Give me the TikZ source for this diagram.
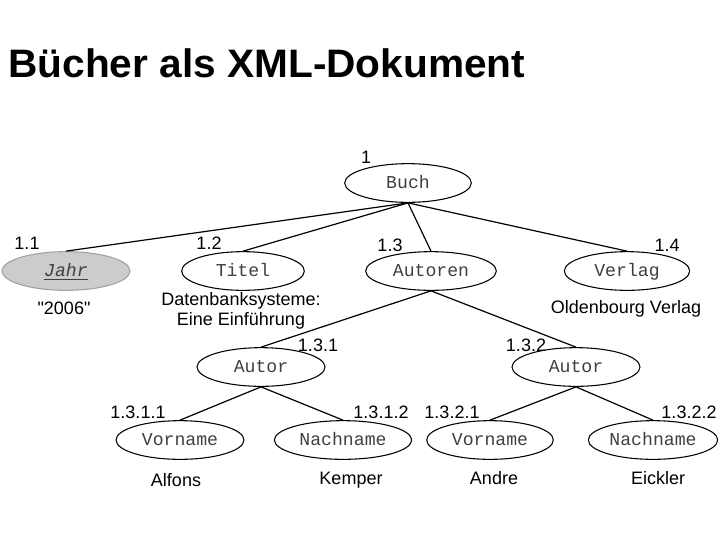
\documentclass[tikz,border=0pt]{standalone}
\usepackage{fontspec}
\setmainfont{Liberation Sans}
\newfontfamily\plainfnt{Liberation Sans}
\newfontfamily\monofnt{Liberation Mono}
\usetikzlibrary{shapes.geometric}
\definecolor{nodetext}{HTML}{404040}
\definecolor{jahrfill}{HTML}{CCCCCC}
\definecolor{jahrdraw}{HTML}{A0A0A0}
\tikzset{
  elem/.style={ellipse, draw=black, line width=0.8pt, inner sep=0pt,
    minimum width=96pt, minimum height=29pt, text height=8.6pt, text depth=0pt,
    font=\monofnt\fontsize{13.6pt}{15pt}\selectfont, text=nodetext},
  lbl/.style={font=\fontsize{13.5pt}{16pt}\selectfont, inner sep=0pt, anchor=base, text=black},
  val/.style={font=\fontsize{13.5pt}{15pt}\selectfont, inner sep=0pt, anchor=base, align=center, text=black},
  edge/.style={line width=0.9pt, black}
}
\begin{document}
\begin{tikzpicture}[x=0.75pt,y=-0.75pt]
\useasboundingbox[fill=white] (0,0) rectangle (720,540);
\node[anchor=base west, inner sep=0pt, font=\bfseries\fontsize{29.8pt}{32pt}\selectfont] (title) at (8,77) {\resizebox{387.75pt}{\height}{Bücher als XML-Dokument}};

\node[elem, minimum width=95pt] (buch) at (408,183) {Buch};
\node[elem, fill=jahrfill, draw=jahrdraw, minimum width=96pt] (jahr) at (66,271) {\itshape\underline{Jahr}};
\node[elem, minimum width=92pt] (titel) at (243,271) {Titel};
\node[elem, minimum width=98pt] (autoren) at (431,271) {Autoren};
\node[elem, minimum width=94pt] (verlag) at (627,271) {Verlag};
\node[elem, minimum width=96pt] (autor1) at (261,367) {Autor};
\node[elem, minimum width=96pt] (autor2) at (576,367) {Autor};
\node[elem, minimum width=96pt] (vor1) at (180,440) {Vorname};
\node[elem, minimum width=103pt] (nach1) at (343,440) {Nachname};
\node[elem, minimum width=95pt] (vor2) at (490,440) {Vorname};
\node[elem, minimum width=97pt] (nach2) at (653,440) {Nachname};

\draw[edge] (buch.south) -- (jahr.north);
\draw[edge] (buch.south) -- (titel.north);
\draw[edge] (buch.south) -- (autoren.north);
\draw[edge] (buch.south) -- (verlag.north);
\draw[edge] (autoren.south) -- (autor1.north);
\draw[edge] (autoren.south) -- (autor2.north);
\draw[edge] (autor1.south) -- (vor1.north);
\draw[edge] (autor1.south) -- (nach1.north);
\draw[edge] (autor2.south) -- (vor2.north);
\draw[edge] (autor2.south) -- (nach2.north);

\node[lbl] (l1) at (366,163) {1};
\node[lbl] (l11) at (27,249) {1.1};
\node[lbl] (l12) at (209,249) {1.2};
\node[lbl] (l13) at (390,251) {1.3};
\node[lbl] (l14) at (667,251) {1.4};
\node[lbl] (l131) at (318,351) {1.3.1};
\node[lbl] (l132) at (526,351) {1.3.2};
\node[lbl] (l1311) at (138,418) {1.3.1.1};
\node[lbl] (l1312) at (381,418) {1.3.1.2};
\node[lbl] (l1321) at (452,418) {1.3.2.1};
\node[lbl] (l1322) at (689,418) {1.3.2.2};

\node[val] (v2006) at (64,314) {\plainfnt "2006"};
\node[val, anchor=center] (vtitel) at (241,311) {Datenbanksysteme:\\Eine Einführung};
\node[val] (vverlag) at (626,313) {Oldenbourg Verlag};
\node[val] (valf) at (176,486) {Alfons};
\node[val] (vkem) at (351,484) {Kemper};
\node[val] (vand) at (494,484) {Andre};
\node[val] (veic) at (658,484) {Eickler};
\end{tikzpicture}
\end{document}
